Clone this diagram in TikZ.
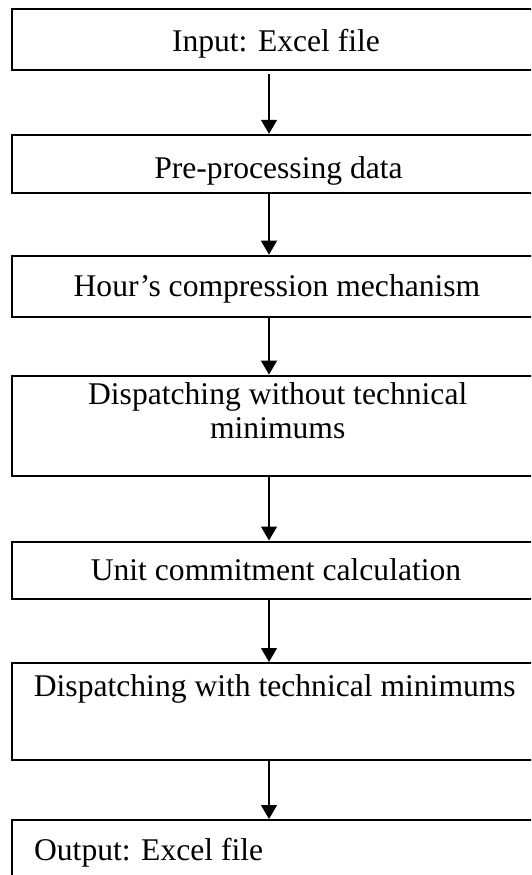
\documentclass[tikz,border=0pt]{standalone}
\usepackage{fontspec}
\setmainfont{Liberation Serif}
\usetikzlibrary{arrows.meta}
\begin{document}
\begin{tikzpicture}[x=1pt,y=-1pt,
  stagebox/.style={draw=black, line width=2pt, inner sep=0pt, minimum width=531pt},
  label/.style={anchor=base, inner sep=0pt, font=\fontsize{31.6pt}{34pt}\selectfont},
  flow/.style={line width=1.3pt, -{Triangle[width=16pt,length=14pt]}}]
  \useasboundingbox (0,0) rectangle (531,875);
  \clip (0,0) rectangle (531,875);
  % stage frames (top edge, bottom edge)
  \node[stagebox, minimum height=60.5pt] (b1) at (277.5, 39.75) {};
  \node[stagebox, minimum height=58.2pt] (b2) at (277.5, 163.9) {};
  \node[stagebox, minimum height=60.9pt] (b3) at (277.5, 286.15) {};
  \node[stagebox, minimum height=100.4pt] (b4) at (277.5, 425.8) {};
  \node[stagebox, minimum height=57.9pt] (b5) at (277.5, 570.45) {};
  \node[stagebox, minimum height=96.6pt] (b6) at (277.5, 711.3) {};
  \node[stagebox, minimum height=80pt] (b7) at (277.5, 860) {};
  % stage labels
  \node[label] (t1) at (276, 51.5) {Input: Excel file};
  \node[label] (t2) at (278.5, 178) {Pre-processing data};
  \node[label] (t3) at (277, 296) {Hour’s compression mechanism};
  \node[label] (t4a) at (277.7, 404.3) {Dispatching without technical};
  \node[label] (t4b) at (277.7, 438.2) {minimums};
  \node[label] (t5) at (276, 580) {Unit commitment calculation};
  \node[label] (t6) at (274.8, 696) {Dispatching with technical minimums};
  \node[label, anchor=base west] (t7) at (33.9, 860.5) {Output: Excel file};
  % vertical flow
  \coordinate (ax) at (269, 0);
  \draw[flow] ([yshift=-3pt]b1.south -| ax) -- (b2.north -| ax);
  \draw[flow] (b2.south -| ax) -- (b3.north -| ax);
  \draw[flow] (b3.south -| ax) -- (b4.north -| ax);
  \draw[flow] (b4.south -| ax) -- (b5.north -| ax);
  \draw[flow] (b5.south -| ax) -- (b6.north -| ax);
  \draw[flow] (b6.south -| ax) -- (b7.north -| ax);
\end{tikzpicture}
\end{document}
